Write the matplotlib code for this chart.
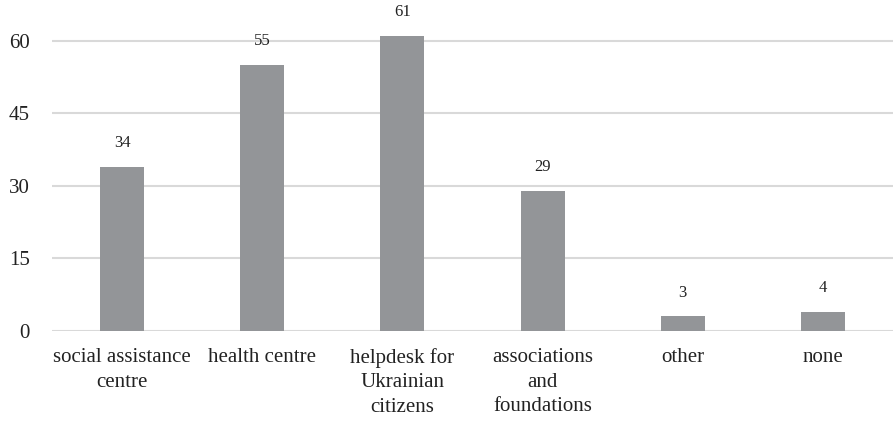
import numpy as np
import matplotlib.pyplot as plt

# Chart data
categories = ["social assistance\ncentre", "health centre",
              "helpdesk for\nUkrainian\ncitizens", "associations\nand\nfoundations",
              "other", "none"]
counts = [34, 55, 61, 29, 3, 4]
yticks = [0, 15, 30, 45, 60]

plt.rcParams['font.family'] = ['Liberation Serif', 'DejaVu Serif']

fig = plt.figure(figsize=(8.93, 4.29), dpi=100)
ax = fig.add_axes([52/893, 98/429, 841/893, 327/429])

x = np.arange(len(categories))
bars = ax.bar(x, counts, width=0.315, color='#939598', zorder=3)

# value labels above bars
for xi, v in zip(x, counts):
    ax.annotate(str(v), (xi, v), xytext=(0, 17), textcoords='offset points',
                ha='center', va='center', fontsize=12, color='#222222')

ax.set_xlim(-0.5, len(categories) - 0.5)
ax.set_ylim(0, 67.6)
ax.set_yticks(yticks)
ax.set_xticks(x)
ax.set_xticklabels(categories, fontsize=15, linespacing=1.42, color='#222222')
ax.tick_params(axis='y', labelsize=15, length=0, pad=16, labelcolor='#222222')
ax.tick_params(axis='x', length=0, pad=12)
ax.yaxis.grid(True, color='#d9d9d9', linewidth=1.5, zorder=0)
for s in ax.spines.values():
    s.set_visible(False)

fig.savefig("out.png", dpi=100)
